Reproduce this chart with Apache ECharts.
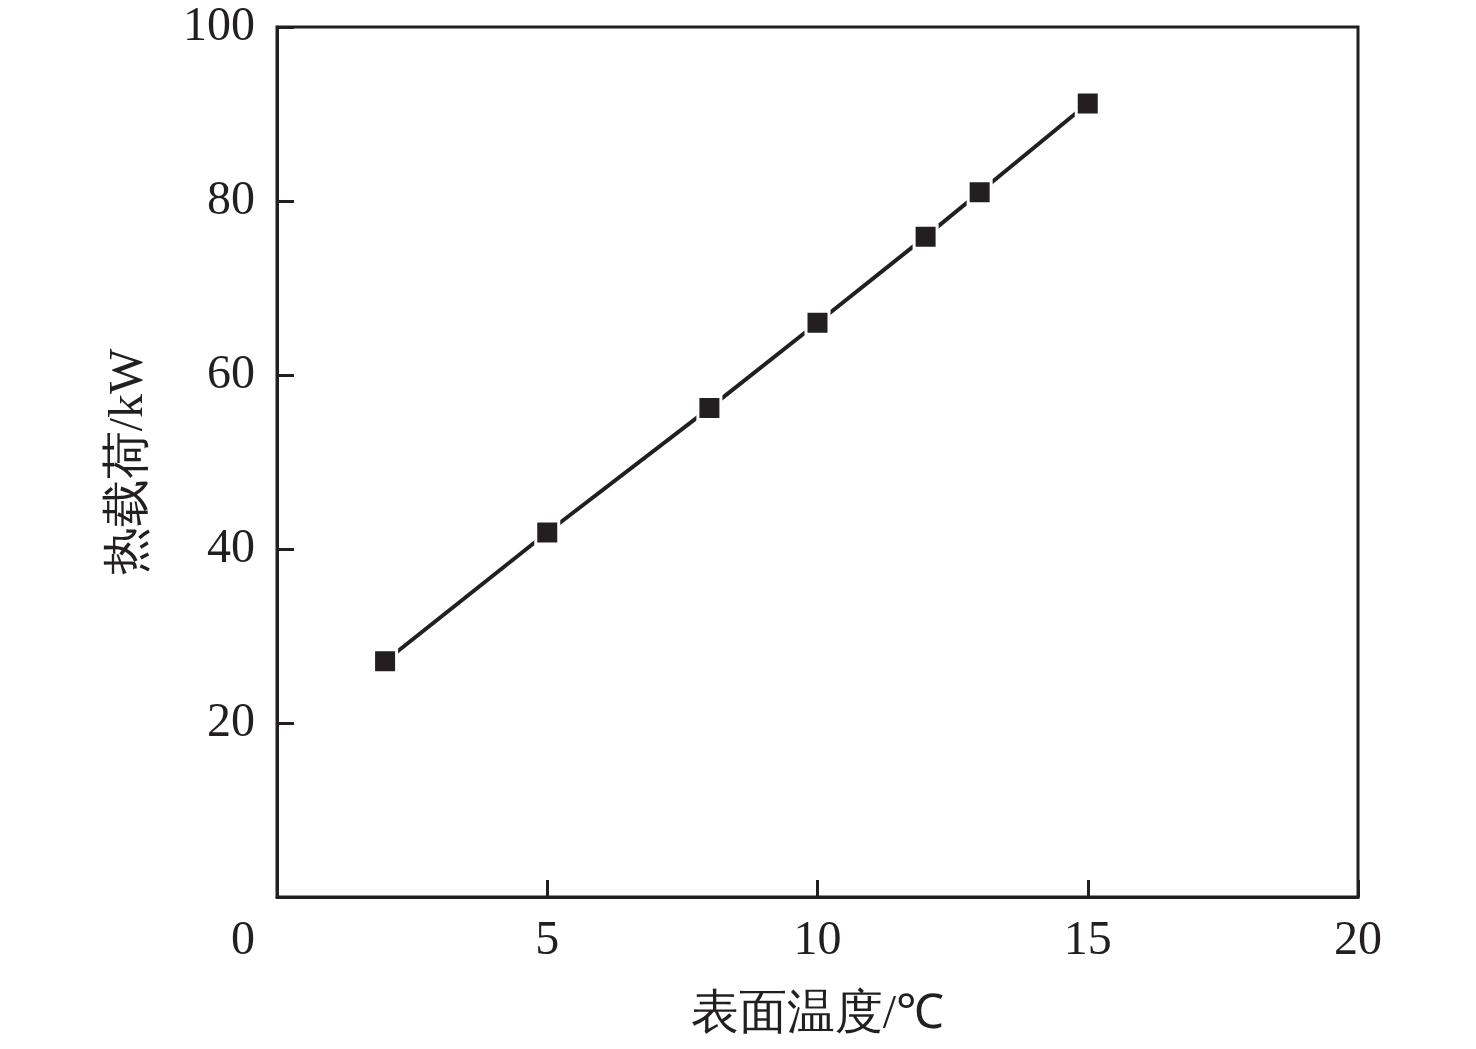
<!DOCTYPE html>
<html>
<head>
<meta charset="utf-8">
<script src="https://cdn.jsdelivr.net/npm/echarts@6/dist/echarts.min.js"></script>
<style>
  html, body { margin: 0; padding: 0; background: #fff; }
  #chart { width: 1476px; height: 1049px; }
</style>
</head>
<body>
<div id="chart"></div>
<script>
// 表面温度 (℃) 与 热载荷 (kW)
const surfaceTemp = [2, 5, 8, 10, 12, 13, 15];
const heatLoad = [27.1, 41.9, 56.2, 66.0, 75.9, 81.0, 91.2];

const ink = "#231f20";
const serif = "Liberation Serif";

const chart = echarts.init(document.getElementById("chart"));

const option = {
  backgroundColor: "#fff",
  animation: false,
  grid: {
    left: 277,
    right: 118,
    top: 27,
    bottom: 152,
    show: true,
    borderColor: ink,
    borderWidth: 3
  },
  xAxis: {
    type: "value",
    min: 0,
    max: 20,
    interval: 5,
    name: "表面温度/℃",
    nameLocation: "middle",
    nameGap: 94,
    nameTextStyle: { fontFamily: serif, fontSize: 48, color: ink },
    axisLine: { show: true, lineStyle: { color: ink, width: 3 } },
    axisTick: { show: true, inside: true, length: 17, lineStyle: { color: ink, width: 3 } },
    splitLine: { show: false },
    axisLabel: {
      margin: 20,
      fontFamily: serif,
      fontSize: 48,
      color: ink,
      formatter: v => (v === 0 ? "{z|0}" : String(v)),
      rich: { z: { fontFamily: serif, fontSize: 48, color: ink, padding: [0, 68, 0, 0] } }
    }
  },
  yAxis: {
    type: "value",
    min: 0,
    max: 100,
    interval: 20,
    name: "热载荷/kW",
    nameLocation: "middle",
    nameGap: 124,
    nameRotate: 90,
    nameTextStyle: { fontFamily: serif, fontSize: 48, color: ink },
    axisLine: { show: true, lineStyle: { color: ink, width: 3 } },
    axisTick: { show: true, inside: true, length: 17, lineStyle: { color: ink, width: 3 } },
    splitLine: { show: false },
    axisLabel: {
      margin: 22,
      fontFamily: serif,
      fontSize: 48,
      color: ink,
      showMinLabel: false
    }
  },
  series: [
    {
      type: "line",
      data: surfaceTemp.map((x, i) => [x, heatLoad[i]]),
      symbol: "rect",
      symbolSize: 23,
      lineStyle: { color: ink, width: 4 },
      itemStyle: { color: ink, borderColor: "#fff", borderWidth: 3 }
    }
  ]
};

chart.setOption(option);
</script>
</body>
</html>
